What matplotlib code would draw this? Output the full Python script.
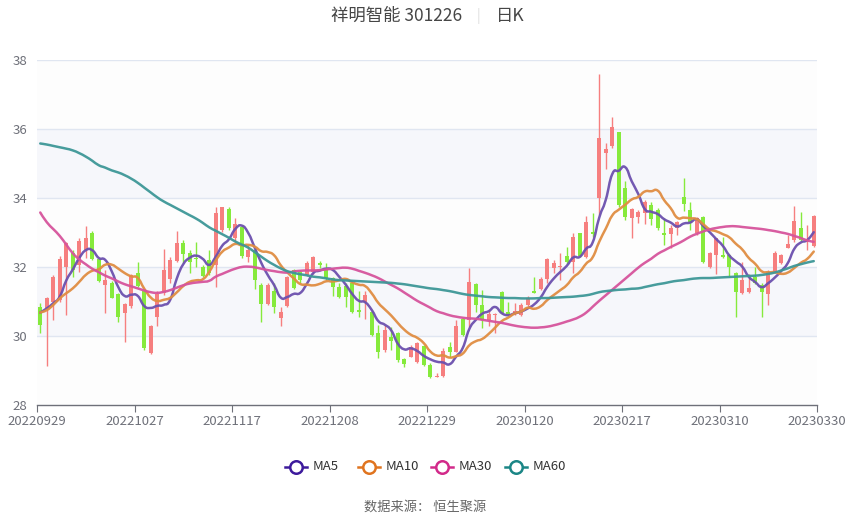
import matplotlib
matplotlib.use('Agg')
import matplotlib.pyplot as plt
import numpy as np
from matplotlib.lines import Line2D
from matplotlib.path import Path
from matplotlib.patches import PathPatch

plt.rcParams['font.family'] = ['Noto Sans CJK SC', 'DejaVu Sans']

title_name = '祥明智能 301226'
title_period = '日K'
source_text = '数据来源： 恒生聚源'

tick_labels = ['20220929', '20221027', '20221117', '20221208', '20221229',
               '20230120', '20230217', '20230310', '20230330']
tick_index = [0, 15, 30, 45, 60, 75, 90, 105, 119]

opens = [30.85, 30.80, 31.00, 31.04, 32.01, 32.40, 32.06, 32.49, 33.00, 32.22,
         31.48, 31.55, 31.21, 30.68, 30.87, 31.82, 31.29, 29.50, 30.56, 31.24,
         31.64, 32.18, 32.71, 32.40, 32.25, 32.01, 32.20, 32.06, 33.07, 33.67,
         32.83, 33.17, 32.28, 32.49, 31.48, 30.93, 31.31, 30.51, 30.87, 31.91,
         31.86, 31.77, 31.86, 32.11, 31.91, 31.67, 31.43, 31.46, 31.55, 30.74,
         31.00, 30.71, 30.08, 29.59, 29.96, 30.10, 29.32, 29.40, 29.26, 29.71,
         29.16, 28.82, 28.84, 29.69, 29.55, 30.48, 30.45, 31.50, 30.90, 30.46,
         30.62, 31.28, 30.71, 30.64, 30.61, 30.90, 31.31, 31.35, 31.64, 31.96,
         31.99, 32.32, 32.15, 32.98, 32.29, 33.02, 34.00, 35.29, 35.51, 35.90,
         34.29, 33.43, 33.46, 33.56, 33.80, 33.65, 32.98, 32.95, 33.14, 34.04,
         33.65, 32.98, 33.46, 32.01, 32.35, 32.35, 32.35, 31.82, 31.24, 31.27,
         31.72, 31.48, 31.21, 31.86, 32.11, 32.56, 32.78, 33.12, 32.73, 32.62]
highs = [30.95, 31.14, 31.77, 32.32, 32.73, 32.49, 32.83, 33.19, 33.05, 32.25,
         31.91, 31.58, 31.24, 30.95, 31.80, 32.15, 31.32, 30.32, 31.29, 32.51,
         32.30, 33.05, 32.77, 32.50, 32.73, 32.06, 32.49, 33.75, 33.75, 33.73,
         33.41, 33.22, 32.64, 32.54, 31.53, 31.53, 31.53, 30.83, 31.74, 31.93,
         31.91, 32.16, 32.32, 32.18, 32.11, 31.72, 31.53, 31.53, 31.58, 31.31,
         31.30, 30.76, 30.32, 30.32, 30.27, 30.13, 29.35, 29.74, 29.84, 29.74,
         29.21, 28.92, 29.64, 29.84, 30.46, 30.51, 31.98, 31.53, 31.33, 30.77,
         30.68, 31.30, 31.00, 30.95, 30.95, 31.16, 31.70, 31.70, 32.25, 32.20,
         32.40, 32.59, 33.00, 33.00, 33.48, 33.56, 37.60, 35.58, 36.36, 35.92,
         34.48, 33.70, 33.65, 33.94, 33.89, 33.70, 33.41, 33.22, 33.33, 34.57,
         33.87, 33.46, 33.49, 32.44, 32.83, 32.88, 32.37, 31.85, 32.15, 31.79,
         32.01, 31.53, 31.91, 32.46, 32.37, 32.93, 33.78, 33.60, 33.22, 33.51]
lows = [30.08, 29.14, 30.46, 31.00, 30.61, 31.72, 31.86, 32.25, 32.20, 31.57,
        30.68, 31.09, 30.42, 29.84, 30.80, 31.43, 29.59, 29.48, 30.29, 31.19,
        31.53, 32.15, 32.11, 31.84, 32.01, 31.72, 31.77, 31.43, 33.02, 33.07,
        32.73, 32.25, 32.15, 31.35, 30.42, 30.90, 30.66, 30.29, 30.83, 31.35,
        31.53, 31.74, 31.81, 31.96, 31.62, 31.16, 31.11, 30.85, 30.66, 30.56,
        30.50, 30.00, 29.35, 29.55, 29.59, 29.26, 29.11, 29.38, 29.21, 29.13,
        28.77, 28.80, 28.82, 29.40, 29.53, 30.00, 30.27, 30.71, 30.22, 30.29,
        30.10, 30.64, 30.58, 30.61, 30.58, 30.87, 31.24, 31.32, 31.53, 31.82,
        31.62, 32.10, 31.82, 32.28, 32.27, 32.88, 33.50, 34.83, 35.44, 33.75,
        33.35, 32.83, 33.27, 33.24, 33.22, 33.07, 32.64, 32.54, 32.93, 33.62,
        33.07, 32.93, 32.11, 31.98, 31.79, 32.25, 31.72, 30.56, 31.21, 31.24,
        31.50, 30.56, 30.90, 31.84, 32.08, 32.54, 32.73, 32.75, 32.49, 32.59]
closes = [30.32, 31.09, 31.70, 32.22, 32.71, 31.91, 32.76, 32.83, 32.22, 31.59,
          31.62, 31.11, 30.56, 30.92, 31.77, 31.45, 29.64, 30.29, 31.22, 31.91,
          32.20, 32.69, 32.38, 32.15, 32.22, 31.74, 31.82, 33.56, 33.75, 33.12,
          33.25, 32.32, 32.49, 31.62, 30.93, 31.48, 30.83, 30.71, 31.70, 31.38,
          31.62, 32.13, 32.28, 32.06, 31.67, 31.43, 31.14, 31.14, 30.71, 30.69,
          31.20, 30.03, 29.55, 30.17, 29.86, 29.30, 29.19, 29.69, 29.79, 29.16,
          28.80, 28.84, 29.57, 29.55, 30.28, 30.03, 31.56, 30.90, 30.46, 30.64,
          30.64, 30.67, 30.61, 30.73, 30.90, 31.09, 31.26, 31.64, 32.23, 32.11,
          32.03, 32.15, 32.86, 32.32, 33.31, 32.95, 35.73, 35.42, 36.05, 33.80,
          33.46, 33.68, 33.60, 33.87, 33.40, 33.12, 32.93, 33.12, 33.31, 33.82,
          33.27, 33.41, 32.14, 32.40, 32.83, 32.30, 32.01, 31.28, 31.62, 31.38,
          31.53, 31.27, 31.86, 32.42, 32.35, 32.66, 33.33, 32.78, 32.78, 33.49]

ma5_head = [30.68, 30.80, 30.95, 31.14]
ma10_head = [30.68, 30.75, 30.90, 31.09, 31.24, 31.38, 31.57, 31.77, 31.89]
ma30 = [33.58, 33.30, 33.10, 32.90, 32.65, 32.40, 32.22, 32.08, 31.95, 31.85,
        31.75, 31.67, 31.58, 31.50, 31.44, 31.38, 31.32, 31.27, 31.25, 31.28,
        31.33, 31.40, 31.47, 31.52, 31.55, 31.57, 31.60, 31.72, 31.80, 31.88,
        31.95, 32.00, 32.01, 31.99, 31.95, 31.91, 31.88, 31.85, 31.84, 31.87,
        31.89, 31.90, 31.90, 31.91, 31.93, 31.95, 31.97, 31.98, 31.95, 31.89,
        31.83, 31.76, 31.68, 31.58, 31.48, 31.38, 31.26, 31.14, 31.02, 30.92,
        30.82, 30.72, 30.66, 30.60, 30.56, 30.53, 30.51, 30.50, 30.47, 30.44,
        30.41, 30.38, 30.34, 30.30, 30.27, 30.25, 30.24, 30.25, 30.27, 30.31,
        30.36, 30.42, 30.48, 30.56, 30.68, 30.85, 31.02, 31.18, 31.34, 31.50,
        31.66, 31.82, 31.98, 32.12, 32.24, 32.38, 32.48, 32.58, 32.67, 32.77,
        32.88, 32.96, 33.03, 33.09, 33.13, 33.16, 33.18, 33.18, 33.16, 33.14,
        33.12, 33.10, 33.07, 33.04, 33.00, 32.96, 32.90, 32.84, 32.77, 32.73]
ma60 = [35.58, 35.55, 35.51, 35.47, 35.43, 35.38, 35.30, 35.20, 35.08, 34.95,
        34.88, 34.80, 34.74, 34.66, 34.56, 34.44, 34.30, 34.16, 34.02, 33.90,
        33.80, 33.70, 33.60, 33.50, 33.40, 33.28, 33.15, 33.05, 32.95, 32.85,
        32.74, 32.65, 32.56, 32.43, 32.30, 32.17, 32.06, 31.96, 31.88, 31.83,
        31.79, 31.76, 31.72, 31.70, 31.67, 31.64, 31.62, 31.61, 31.60, 31.59,
        31.58, 31.57, 31.56, 31.55, 31.54, 31.52, 31.50, 31.47, 31.44, 31.41,
        31.38, 31.36, 31.33, 31.30, 31.26, 31.22, 31.19, 31.17, 31.15, 31.13,
        31.12, 31.11, 31.10, 31.10, 31.09, 31.09, 31.09, 31.10, 31.10, 31.11,
        31.12, 31.13, 31.14, 31.16, 31.18, 31.22, 31.27, 31.30, 31.32, 31.34,
        31.35, 31.37, 31.38, 31.42, 31.46, 31.50, 31.53, 31.57, 31.60, 31.62,
        31.65, 31.67, 31.68, 31.68, 31.69, 31.70, 31.71, 31.72, 31.73, 31.74,
        31.75, 31.77, 31.80, 31.84, 31.90, 31.96, 32.03, 32.08, 32.13, 32.17]

ma_names = ['MA5', 'MA10', 'MA30', 'MA60']
ma_line_colors = ['#6c50ae', '#e08d42', '#d6549c', '#3d9797']
ma_icon_colors = ['#3d1a9c', '#e0741f', '#d22a8a', '#1b8686']

up_color = '#f67f7f'
down_color = '#86ea3c'

n = len(closes)
c = np.array(closes)


def moving_average(values, window, head):
    out = []
    for i in range(len(values)):
        if i < window - 1:
            out.append(head[i])
        else:
            out.append(values[i - window + 1:i + 1].mean())
    return np.array(out)


def smooth_path(xs, ys, k=0.25):
    # cubic Bezier through every point (rendering only, like a smoothed line)
    pts = np.column_stack([xs, ys])
    verts = [pts[0]]
    codes = [Path.MOVETO]
    m = len(pts)
    for i in range(m - 1):
        p0 = pts[i - 1] if i > 0 else pts[i]
        p1 = pts[i]
        p2 = pts[i + 1]
        p3 = pts[i + 2] if i + 2 < m else pts[i + 1]
        c1 = p1 + (p2 - p0) * k
        c2 = p2 - (p3 - p1) * k
        verts += [c1, c2, p2]
        codes += [Path.CURVE4] * 3
    return Path(verts, codes)


ma5 = moving_average(c, 5, ma5_head)
ma10 = moving_average(c, 10, ma10_head)
ma_series = [ma5, ma10, np.array(ma30), np.array(ma60)]

W, H = 850, 517
fig = plt.figure(figsize=(W / 100, H / 100), dpi=100)
fig.patch.set_facecolor('white')
ax = fig.add_axes([37 / W, 112 / H, 780 / W, 345 / H])
ax.set_xlim(0, n)
ax.set_ylim(28, 38)
ax.set_facecolor('white')

# split areas and grid lines
band_colors = ['#fdfdfd', '#f6f7fb']
for k, y0 in enumerate(range(28, 38, 2)):
    ax.axhspan(y0, y0 + 2, color=band_colors[k % 2], lw=0, zorder=0)
for y in range(30, 39, 2):
    ax.axhline(y, color='#e0e6f1', lw=1, zorder=1)

x = np.arange(n) + 0.5
o = np.array(opens); h = np.array(highs); l = np.array(lows)
colors = [up_color if cc >= oo else down_color for oo, cc in zip(o, c)]
ax.vlines(x, l, h, colors=colors, lw=1, zorder=2)
bottoms = np.minimum(o, c)
heights = np.maximum(np.abs(c - o), 0.03)
ax.bar(x, heights, bottom=bottoms, width=0.64, color=colors, lw=0, zorder=3)

for s, col in zip(ma_series, ma_line_colors):
    patch = PathPatch(smooth_path(x, s), facecolor='none', edgecolor=col, lw=1.8,
                      alpha=0.95, zorder=4, capstyle='round', joinstyle='round')
    ax.add_patch(patch)

for sp in ['top', 'right', 'left']:
    ax.spines[sp].set_visible(False)
ax.spines['bottom'].set_color('#6e7079')
ax.spines['bottom'].set_linewidth(1)
ax.spines['bottom'].set_zorder(5)

tick_pos = [k if k < n - 1 else n for k in tick_index]
ax.set_xticks(tick_pos)
ax.set_xticklabels(tick_labels)
ax.tick_params(axis='x', direction='out', length=5, color='#6e7079',
               labelcolor='#6e7079', labelsize=9.5, pad=2)
ax.set_yticks(range(28, 39, 2))
ax.tick_params(axis='y', length=0, labelcolor='#6e7079', labelsize=9.5, pad=7)

# title
ty = 1 - 16 / H
fig.text(462 / W, ty, title_name, ha='right', va='center', fontsize=12.5, color='#464646')
fig.text(478 / W, ty, '|', ha='center', va='center', fontsize=10, color='#dcdcdc')
fig.text(496 / W, ty, title_period, ha='left', va='center', fontsize=12.5, color='#464646')

# legend
ly = 1 - 467 / H
icon_x = [285, 358, 431, 505]
for name, col, x0 in zip(ma_names, ma_icon_colors, icon_x):
    fig.add_artist(Line2D([x0 / W, (x0 + 22) / W], [ly, ly], color=col, lw=1.8,
                          transform=fig.transFigure))
    fig.add_artist(Line2D([(x0 + 11) / W], [ly], marker='o', markersize=9,
                          markerfacecolor='white', markeredgecolor=col, markeredgewidth=1.8,
                          transform=fig.transFigure))
    fig.text((x0 + 28) / W, ly, name, ha='left', va='center', fontsize=9.5, color='#333333')

fig.text(425 / W, 1 - 507 / H, source_text, ha='center', va='center', fontsize=9.5, color='#666666')

fig.savefig('out.png', dpi=100, facecolor='white')
